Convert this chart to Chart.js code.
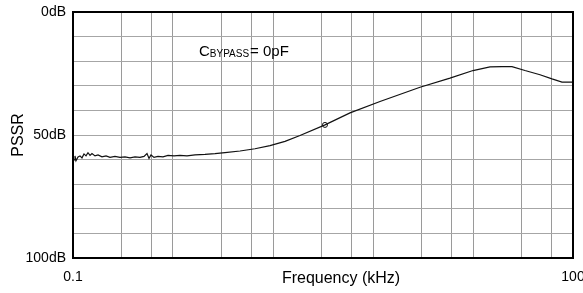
<!DOCTYPE html>
<html>
<head>
<meta charset="utf-8">
<script src="https://cdn.jsdelivr.net/npm/chart.js@4/dist/chart.umd.min.js"></script>
<style>
  body { margin: 0; background: #fff; }
  canvas { display: block; }
</style>
</head>
<body>
<canvas id="psrrChart" width="583" height="293"></canvas>
<script>
'use strict';

// frequency in kHz
var freqKHz = [0.1014, 0.1028, 0.1042, 0.1072, 0.1102, 0.1132, 0.1164, 0.1197, 0.123, 0.1265,
    0.13, 0.1355, 0.1413, 0.1493, 0.1578, 0.1667, 0.1786, 0.1914, 0.2051, 0.2198,
    0.2355, 0.2523, 0.2667, 0.278, 0.2858, 0.2938, 0.3062, 0.3236, 0.3467, 0.3715,
    0.4036, 0.4385, 0.4831, 0.5395, 0.6194, 0.7112, 0.8166, 1.005, 1.236, 1.521,
    1.871, 2.301, 3.251, 4.592, 6.95, 12.08, 18.28, 25.12, 31.77, 37.5,
    43.05, 51.5, 63.4, 74.8, 85.9, 100];
// PSSR in dB
var pssrDb = [60.1, 58.5, 60.5, 58.9, 58.5, 59.3, 57.7, 58.5, 57.2, 58.3,
    57.5, 58.5, 58.1, 58.9, 58.5, 59.1, 58.7, 59.1, 58.9, 59.3,
    58.9, 59.1, 58.7, 57.5, 59.5, 58.1, 59.1, 58.7, 58.9, 58.3,
    58.5, 58.3, 58.5, 58.1, 57.9, 57.6, 57.2, 56.5, 55.6, 54.3,
    52.6, 50.2, 45.9, 41.0, 36.4, 30.6, 26.9, 23.8, 22.3, 22.2,
    22.2, 23.8, 25.5, 27.2, 28.5, 28.5];

// little open circle on the trace
var markerFreq = [3.25];
var markerDb = [45.9];

// vertical grid of the original plot (not a plain decade grid)
var xGridKHz = [0.1, 0.1954, 0.2958, 0.3981, 0.778, 1.178, 1.585, 3.097, 4.688,
    6.31, 12.33, 18.66, 25.12, 49.08, 74.3, 100];
var xLabels = { '0.1': '0.1', '100': '100' };
var yLabels = { '0': '0dB', '50': '50dB', '100': '100dB' };

var fontFamily = '"Liberation Sans", Arial, Helvetica, sans-serif';

var traceData = freqKHz.map(function (f, i) { return { x: f, y: pssrDb[i] }; });
var markerData = markerFreq.map(function (f, i) { return { x: f, y: markerDb[i] }; });

var extraText = {
    id: 'extraText',
    afterDraw: function (chart) {
        var ctx = chart.ctx;
        var area = chart.chartArea;
        var xs = chart.scales.x;
        var ys = chart.scales.y;
        ctx.save();

        // frame
        ctx.strokeStyle = '#000';
        ctx.lineWidth = 2;
        ctx.strokeRect(area.left, area.top, area.right - area.left, area.bottom - area.top);

        ctx.fillStyle = '#000';
        ctx.textBaseline = 'alphabetic';

        // x title sits on the same row as the tick labels
        ctx.font = '16px ' + fontFamily;
        ctx.textAlign = 'center';
        ctx.fillText('Frequency (kHz)', 341, 283);

        // y title
        ctx.save();
        ctx.translate(23, 135);
        ctx.rotate(-Math.PI / 2);
        ctx.fillText('PSSR', 0, 0);
        ctx.restore();

        // C_BYPASS = 0pF
        var x = xs.getPixelForValue(0.57);
        var y = ys.getPixelForValue(18);
        ctx.textAlign = 'left';
        ctx.font = '15px ' + fontFamily;
        ctx.fillText('C', x, y);
        x += ctx.measureText('C').width;
        ctx.font = '10px ' + fontFamily;
        ctx.fillText('BYPASS', x, y + 1);
        x += ctx.measureText('BYPASS').width + 1;
        ctx.font = '15px ' + fontFamily;
        ctx.fillText('= 0pF', x, y);

        ctx.restore();
    }
};

var psrrChart = new Chart(document.getElementById('psrrChart'), {
    type: 'scatter',
    data: {
        datasets: [
            {
                label: 'PSSR',
                data: traceData,
                showLine: true,
                borderColor: '#111',
                borderWidth: 1.2,
                pointRadius: 0,
                tension: 0
            },
            {
                label: 'marker',
                data: markerData,
                showLine: false,
                pointRadius: 2.5,
                pointBorderColor: '#111',
                pointBackgroundColor: '#fff',
                pointBorderWidth: 1
            }
        ]
    },
    options: {
        responsive: false,
        animation: false,
        devicePixelRatio: 1,
        layout: { padding: { top: 12, right: 10, left: 0, bottom: 0 } },
        plugins: {
            legend: { display: false },
            tooltip: { enabled: false }
        },
        scales: {
            x: {
                type: 'logarithmic',
                min: 0.1,
                max: 100,
                afterBuildTicks: function (axis) {
                    axis.ticks = xGridKHz.map(function (v) { return { value: v }; });
                },
                afterFit: function (axis) {
                    axis.height = 35;
                    axis.paddingLeft = 0;
                    axis.paddingRight = 0;
                },
                grid: { color: '#9a9a9a', lineWidth: 1, drawTicks: false },
                border: { display: false },
                ticks: {
                    autoSkip: false,
                    maxRotation: 0,
                    padding: 11,
                    color: '#000',
                    font: { family: fontFamily, size: 14 },
                    callback: function (value) {
                        return xLabels[String(value)] || '';
                    }
                }
            },
            y: {
                type: 'linear',
                min: 0,
                max: 100,
                reverse: true,
                afterFit: function (axis) {
                    axis.width = 73;
                    axis.paddingTop = 0;
                    axis.paddingBottom = 0;
                },
                grid: { color: '#a6a6a6', lineWidth: 1, drawTicks: false },
                border: { display: false },
                ticks: {
                    stepSize: 10,
                    autoSkip: false,
                    padding: 7,
                    color: '#000',
                    font: { family: fontFamily, size: 14 },
                    callback: function (value) {
                        return yLabels[String(value)] || '';
                    }
                }
            }
        }
    },
    plugins: [extraText]
});
</script>
</body>
</html>
